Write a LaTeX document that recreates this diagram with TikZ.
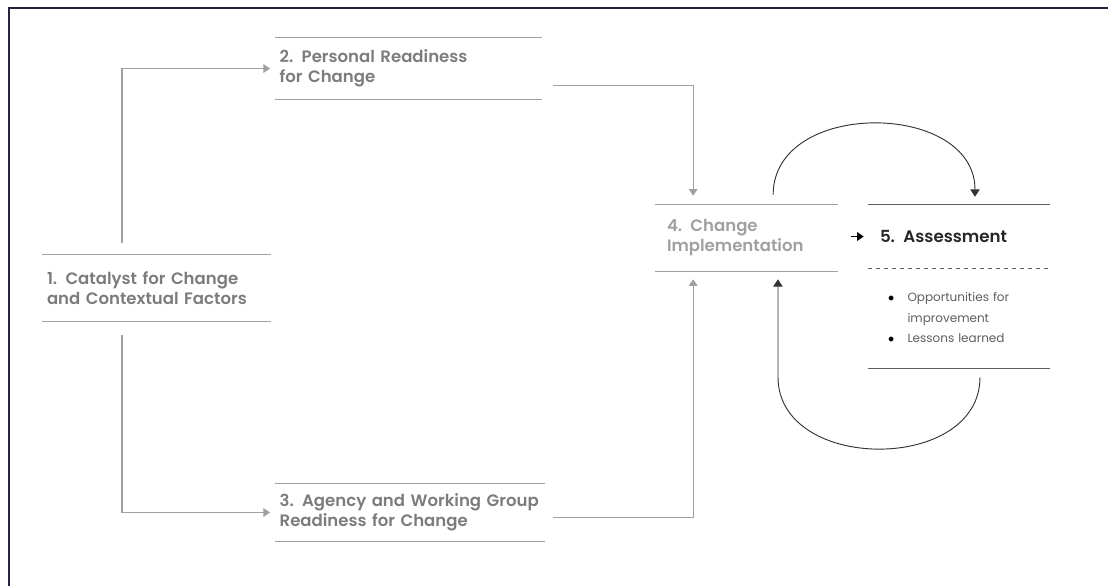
\documentclass[tikz,border=0pt]{standalone}
\usepackage{fontspec}
\setmainfont{Poppins}[BoldFont={Poppins SemiBold}]
\usepackage{tikz}
\usetikzlibrary{arrows.meta,positioning}
\definecolor{txtgray}{HTML}{7C7C7C}
\definecolor{softgray}{HTML}{A0A0A0}
\definecolor{linegray}{HTML}{A0A0A0}
\definecolor{darkline}{HTML}{5E5E5E}
\definecolor{framecol}{HTML}{27233F}
\tikzset{
    %Define standard arrow tip
    >={Triangle[width=6.5pt,length=5pt]},
    %Define style for stages
    stage/.style={
           rectangle,
           inner xsep=3.5pt, inner ysep=0pt,
           align=left,
           font=\fontsize{12.4}{15}\selectfont\bfseries,
           text=txtgray,
           append after command={
              (\tikzlastnode.north west) edge[linegray,line width=0.9pt,-] (\tikzlastnode.north east)
              (\tikzlastnode.south west) edge[linegray,line width=0.9pt,-] (\tikzlastnode.south east)}
           },
    assessbox/.style={
           rectangle,
           inner xsep=9pt, inner ysep=0pt,
           align=left,
           font=\fontsize{12.5}{15}\selectfont\bfseries,
           text=black!85,
           append after command={
              (\tikzlastnode.north west) edge[darkline,line width=0.9pt,-] (\tikzlastnode.north east)
              (\tikzlastnode.south west) edge[darkline,line width=0.6pt,dashed,-] (\tikzlastnode.south east)}
           },
    listbox/.style={
           rectangle,
           inner xsep=15pt, inner ysep=0pt,
           align=left,
           font=\fontsize{9}{15.5}\selectfont,
           text=darkline,
           append after command={
              (\tikzlastnode.south west) edge[darkline,line width=0.9pt,-] (\tikzlastnode.south east)}
           },
    % Define arrow styles
    pil/.style={
           ->,
           draw=linegray,
           line width=0.9pt,
           shorten >=3.5pt},
    looppil/.style={
           -{Triangle[width=7pt,length=5.5pt]},
           draw=black!80,
           line width=0.7pt},
    darkpil/.style={
           -{Stealth[width=6pt,length=5pt]},
           draw=black,
           line width=0.8pt}
}
\begin{document}
\begin{tikzpicture}[x=0.75pt,y=-0.75pt]
\useasboundingbox (0,0) rectangle (1108,586);
\draw[framecol,line width=1.5pt] (1108,7.5) -- (8.5,7.5) -- (8.5,586);

 %nodes
\node[stage, text width=164.25pt, minimum height=49.5pt] (catalyst) at (156.5,288)
    {1. Catalyst for Change\\and Contextual Factors};
\node[stage, text width=193.25pt, minimum height=45.75pt] (personal) at (408.5,68.5)
    {2. Personal Readiness\\for Change};
\node[stage, text width=195.5pt, minimum height=42.75pt] (agency) at (410,512.5)
    {3. Agency and Working Group\\Readiness for Change};
\node[stage, inner xsep=9pt, text=softgray, text width=119.25pt, minimum height=49.5pt] (implement) at (746.5,238)
    {4. Change\\Implementation};
\node[assessbox, text width=118.5pt, minimum height=47.25pt] (assess) at (959,236.5)
    {5. Assessment};
\node[listbox, text width=106.5pt, minimum height=75pt] (lessons) at (959,318)
    {\begin{tabular}{@{}l@{\hspace{10pt}}l@{}}
     \textcolor{black}{$\bullet$} & Opportunities for\\
      & improvement\\
     \textcolor{black}{$\bullet$} & Lessons learned
     \end{tabular}};
\coordinate (turn) at (778,377);

 %connectors
\draw[pil] ([xshift=-25.9pt,yshift=9pt]catalyst.north) |- (personal.west);
\draw[pil] ([xshift=-25.9pt,yshift=-10.5pt]catalyst.south) |- (agency.west);
\draw[pil, shorten >=0pt] ([xshift=8.25pt,yshift=-13pt]personal.east) -| ([xshift=-40pt,yshift=6.75pt]implement.north);
\draw[pil, shorten >=0pt] ([xshift=6pt,yshift=-4pt]agency.east) -| ([xshift=-40pt,yshift=-6pt]implement.south);
\draw[looppil] ([xshift=20pt,yshift=7.5pt]implement.north)
    .. controls +(0,-96) and +(0,-96) .. ([xshift=12pt,yshift=6pt]assess.north);
\draw[looppil] ([xshift=15.75pt,yshift=-6.75pt]lessons.south)
    .. controls +(0,96) and +(0,96) .. (turn) -- ([xshift=23.6pt,yshift=-6pt]implement.south);
\draw[darkpil, <-, shorten <=3pt] (assess.west) -- ++(-17,0);
\end{tikzpicture}
\end{document}
